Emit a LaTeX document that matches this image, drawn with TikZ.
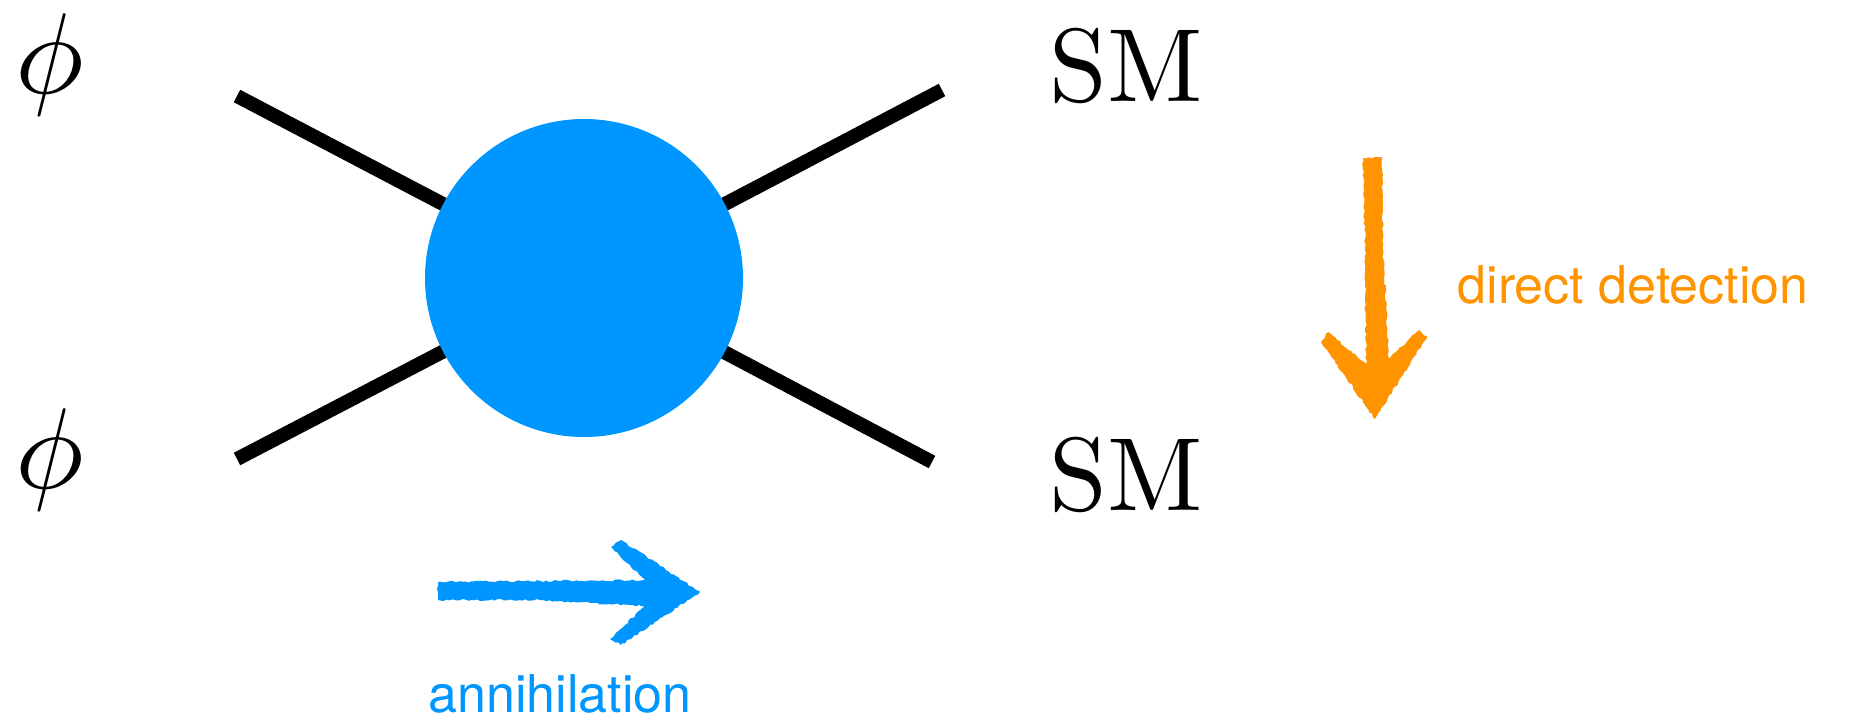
\RequirePackage{fix-cm}
\documentclass[tikz,border=0pt]{standalone}
\usepackage{fontspec}
\setsansfont{TeX Gyre Heros}
\newfontfamily\romanten{lmroman10-regular.otf}
\newfontfamily\mathglyphs{latinmodern-math.otf}
\usetikzlibrary{decorations.pathmorphing,backgrounds}
\definecolor{blobblue}{RGB}{0,150,255}
\definecolor{detorange}{RGB}{255,147,0}
\begin{document}
\begin{tikzpicture}[x=1pt,y=-1pt,
  leg/.style={line width=14pt},
  blob/.style={circle,fill=blobblue,minimum size=318pt,inner sep=0pt},
  field/.style={inner sep=0pt,anchor=base,font=\mathglyphs\fontsize{115}{120}\selectfont},
  smlabel/.style={inner sep=0pt,anchor=base,font=\romanten\fontsize{104}{110}\selectfont},
  note/.style={inner sep=0pt,anchor=base,font=\sffamily\fontsize{52}{60}\selectfont},
  chalk/.style={fill=#1,decorate,decoration={random steps,segment length=3pt,amplitude=1pt}}
]
\pgfmathsetseed{7}
\useasboundingbox (0,0) rectangle (1856,720);

% external legs
\coordinate (tl) at (237,96);
\coordinate (bl) at (237,459);
\coordinate (tr) at (942,90);
\coordinate (br) at (932,462);

% interaction blob
\node[blob] (v) at (584,278) {};
\begin{pgfonlayer}{background}
  \draw[leg] (tl) -- (v.center);
  \draw[leg] (bl) -- (v.center);
  \draw[leg] (tr) -- (v.center);
  \draw[leg] (br) -- (v.center);
\end{pgfonlayer}

% particle labels
\node[field] (phi1) at (50,93) {\symbol{"1D719}};
\node[field] (phi2) at (50,488) {\symbol{"1D719}};
\node[smlabel] (sm1) at (1126,101) {SM};
\node[smlabel] (sm2) at (1126,510) {SM};

% hand-drawn style arrows
\path[chalk=blobblue] (438,582) -- (540,581) -- (645,580) -- (611,547) -- (621,540)
  -- (700,592) -- (621,645) -- (610,639) -- (645,606) -- (540,600) -- (438,600) -- cycle;
\path[chalk=detorange] (1363,158) -- (1382,157) -- (1383,250) -- (1389,359) -- (1419,330)
  -- (1427,337) -- (1375,419) -- (1321,342) -- (1328,332) -- (1366,364) -- (1365,250) -- cycle;

\node[note,text=blobblue] (ann) at (560,712) {annihilation};
\node[note,text=detorange] (dd) at (1633,303) {direct detection};
\end{tikzpicture}
\end{document}
